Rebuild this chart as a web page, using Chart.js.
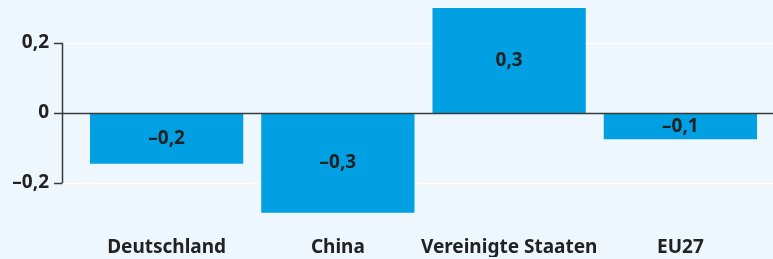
<!DOCTYPE html>
<html>
<head>
<meta charset="utf-8">
<script src="https://cdn.jsdelivr.net/npm/chart.js@4"></script>
<style>
    html, body { margin: 0; padding: 0; background: #eef7fd; }
</style>
</head>
<body>
<canvas id="chart" width="773" height="259"></canvas>
<script>
    // ============================================================================
    // DATA
    // ============================================================================

    var categories = ['Deutschland', 'China', 'Vereinigte Staaten', 'EU27'];
    var values = [-0.145, -0.285, 0.3, -0.075];
    var valueLabels = ['\u20130,2', '\u20130,3', '0,3', '\u20130,1'];
    var yTicks = [0.2, 0, -0.2];
    var yTickLabels = ['0,2', '0', '\u20130,2'];

    var FONT = '"Noto Sans", "Open Sans", sans-serif';
    var FONT_SIZE = 19;
    var TEXT = '#222222';

    // ============================================================================
    // PLUGINS
    // ============================================================================

    // gridlines, axis line and ticks that reach past the chart area
    var axisPlugin = {
        id: 'axisLines',
        beforeDatasetsDraw: function(chart) {
            var ctx = chart.ctx;
            var y = chart.scales.y;
            var axisX = 62;
            var right = chart.width;
            ctx.save();
            ctx.strokeStyle = '#ffffff';
            ctx.lineWidth = 1.5;
            yTicks.forEach(function(v) {
                if (v === 0) return;
                var py = Math.round(y.getPixelForValue(v)) + 0.5;
                ctx.beginPath();
                ctx.moveTo(axisX, py);
                ctx.lineTo(right, py);
                ctx.stroke();
            });
            ctx.restore();
        },
        afterDatasetsDraw: function(chart) {
            var ctx = chart.ctx;
            var y = chart.scales.y;
            var axisX = 62.5;
            var top = y.getPixelForValue(yTicks[0]);
            var bottom = y.getPixelForValue(yTicks[yTicks.length - 1]);
            ctx.save();
            ctx.strokeStyle = '#3a3a3a';
            ctx.lineWidth = 1.5;
            ctx.beginPath();
            ctx.moveTo(axisX, top);
            ctx.lineTo(axisX, bottom);
            ctx.stroke();
            yTicks.forEach(function(v) {
                var py = Math.round(y.getPixelForValue(v)) + 0.5;
                ctx.beginPath();
                ctx.moveTo(54, py);
                ctx.lineTo(v === 0 ? chart.width : axisX, py);
                ctx.stroke();
            });

            // value labels in the middle of each bar
            var meta = chart.getDatasetMeta(0);
            ctx.fillStyle = TEXT;
            ctx.font = 'bold ' + FONT_SIZE + 'px ' + FONT;
            ctx.textAlign = 'center';
            ctx.textBaseline = 'middle';
            meta.data.forEach(function(bar, i) {
                var props = bar.getProps(['x', 'y', 'base'], true);
                ctx.fillText(valueLabels[i], props.x, (props.y + props.base) / 2);
            });
            ctx.restore();
        }
    };

    // ============================================================================
    // CHART
    // ============================================================================

    new Chart(document.getElementById('chart'), {
        type: 'bar',
        data: {
            labels: categories,
            datasets: [{
                data: values,
                backgroundColor: '#00a0e3',
                borderWidth: 0,
                categoryPercentage: 1,
                barPercentage: 0.895
            }]
        },
        options: {
            responsive: false,
            animation: false,
            layout: { padding: { top: 8, right: 7, bottom: 2, left: 0 } },
            plugins: {
                legend: { display: false },
                tooltip: { enabled: false }
            },
            scales: {
                x: {
                    grid: { display: false, drawTicks: false },
                    border: { display: false },
                    afterFit: function(scale) { scale.height = 39; },
                    ticks: {
                        color: TEXT,
                        padding: 18,
                        maxRotation: 0,
                        autoSkip: false,
                        font: { family: FONT, size: FONT_SIZE, weight: 'bold' }
                    }
                },
                y: {
                    min: -0.3,
                    max: 0.3,
                    grid: { display: false, drawTicks: false },
                    border: { display: false },
                    afterFit: function(scale) {
                        scale.width = 81;
                        scale.paddingTop = 0;
                        scale.paddingBottom = 0;
                    },
                    afterBuildTicks: function(scale) {
                        scale.ticks = yTicks.map(function(v) { return { value: v }; });
                    },
                    ticks: {
                        color: TEXT,
                        padding: 32,
                        font: { family: FONT, size: FONT_SIZE, weight: 'bold' },
                        callback: function(value) {
                            var i = yTicks.indexOf(value);
                            return i >= 0 ? yTickLabels[i] : '';
                        }
                    }
                }
            }
        },
        plugins: [axisPlugin]
    });
</script>
</body>
</html>
